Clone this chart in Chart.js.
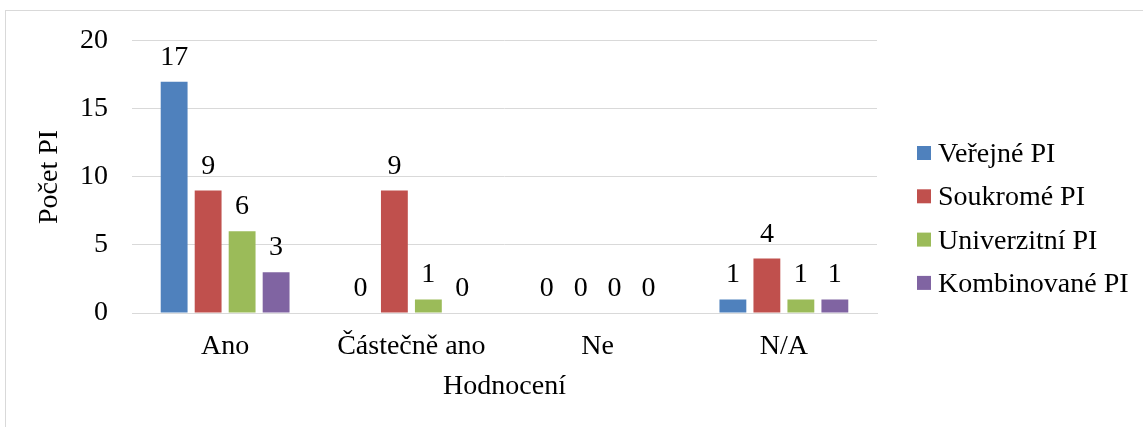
<!DOCTYPE html>
<html>
<head>
<meta charset="utf-8">
<script src="https://cdn.jsdelivr.net/npm/chart.js@4.4.1/dist/chart.umd.min.js"></script>
<style>
  html, body { margin: 0; padding: 0; background: #fff; overflow: hidden; font-family: 'Liberation Serif', serif; }
  #wrap { position: relative; width: 1143px; height: 427px; }
  #frame { position: absolute; left: 5px; top: 10px; width: 1200px; height: 500px;
           border: 1px solid #d9d9d9; pointer-events: none; }
</style>
</head>
<body>
<div id="wrap">
  <canvas id="chart" width="1143" height="427"></canvas>
  <div id="frame"></div>
</div>
<script>
const categories = ['Ano', 'Částečně ano', 'Ne', 'N/A'];
const seriesNames = ['Veřejné PI', 'Soukromé PI', 'Univerzitní PI', 'Kombinované PI'];
const verejne = [17, 0, 0, 1];
const soukrome = [9, 9, 0, 4];
const univerzitni = [6, 1, 0, 1];
const kombinovane = [3, 0, 0, 1];
const yTicks = [0, 5, 10, 15, 20];

const colors = ['#4F81BD', '#C0504D', '#9BBB59', '#8064A2'];
const serif = "'Liberation Serif', serif";
const fontSize = 28;

// value labels above each bar
const barLabels = {
    id: 'barLabels',
    afterDatasetsDraw(chart) {
        const ctx = chart.ctx;
        ctx.save();
        ctx.font = fontSize + 'px ' + serif;
        ctx.fillStyle = '#000';
        ctx.textAlign = 'center';
        ctx.textBaseline = 'alphabetic';
        chart.data.datasets.forEach((ds, i) => {
            chart.getDatasetMeta(i).data.forEach((bar, j) => {
                ctx.fillText(String(ds.data[j]), bar.x, bar.y - 17);
            });
        });
        ctx.restore();
    }
};

// legend on the right
const sideLegend = {
    id: 'sideLegend',
    afterDraw(chart) {
        const ctx = chart.ctx;
        ctx.save();
        ctx.font = fontSize + 'px ' + serif;
        ctx.textAlign = 'left';
        ctx.textBaseline = 'alphabetic';
        chart.data.datasets.forEach((ds, i) => {
            const cy = 153 + i * 43.3;
            ctx.fillStyle = ds.backgroundColor;
            ctx.fillRect(917, cy - 7, 14, 14);
            ctx.fillStyle = '#000';
            ctx.fillText(ds.label, 938, cy + 9);
        });
        ctx.restore();
    }
};

const seriesData = [verejne, soukrome, univerzitni, kombinovane];

function draw() {
    new Chart(document.getElementById('chart'), {
        type: 'bar',
        data: {
            labels: categories,
            datasets: seriesNames.map((name, i) => ({
                label: name,
                data: seriesData[i],
                backgroundColor: colors[i],
                borderWidth: 0,
                categoryPercentage: 0.73,
                barPercentage: 0.79
            }))
        },
        options: {
            responsive: false,
            animation: false,
            layout: { padding: { top: 39, right: 266, bottom: 0, left: 0 } },
            plugins: {
                legend: { display: false },
                tooltip: { enabled: false }
            },
            scales: {
                x: {
                    grid: { display: false, drawTicks: false },
                    border: { display: true, color: '#d9d9d9', width: 1 },
                    ticks: { color: '#000', font: { family: serif, size: fontSize }, padding: 17 },
                    title: {
                        display: true, text: 'Hodnocení', color: '#000',
                        font: { family: serif, size: fontSize }, padding: { top: 0, bottom: 24 }
                    },
                    afterFit: s => { s.height = 114; }
                },
                y: {
                    min: 0, max: 20,
                    afterBuildTicks: s => { s.ticks = yTicks.map(v => ({ value: v })); },
                    grid: { color: '#d9d9d9', lineWidth: 1, drawTicks: false },
                    border: { display: false },
                    ticks: { color: '#000', font: { family: serif, size: fontSize }, padding: 24 },
                    title: {
                        display: true, text: 'Počet PI', color: '#000',
                        font: { family: serif, size: fontSize }, padding: { top: 33, bottom: 0 }
                    },
                    afterFit: s => { s.width = 132; }
                }
            }
        },
        plugins: [barLabels, sideLegend]
    });
}

document.fonts.load(fontSize + "px 'Liberation Serif'").then(draw, draw);
</script>
</body>
</html>
